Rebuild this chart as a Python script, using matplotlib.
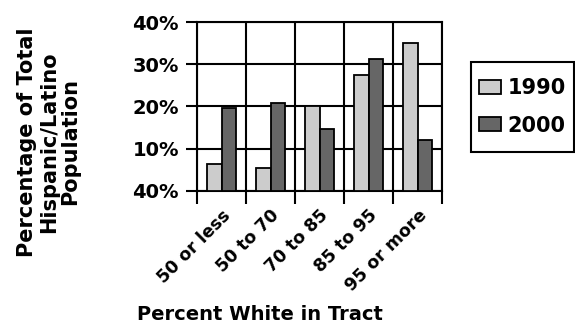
import matplotlib
matplotlib.use("Agg")
import matplotlib.pyplot as plt
from matplotlib.patches import Rectangle
import numpy as np

categories = ["50 or less", "50 to 70", "70 to 85", "85 to 95", "95 or more"]
series_names = ["1990", "2000"]
values_1990 = [6.4, 5.4, 20.0, 27.5, 35.0]
values_2000 = [19.6, 20.8, 14.6, 31.2, 12.1]
ytick_values = [0, 10, 20, 30, 40]
ytick_labels = ["40%", "10%", "20%", "30%", "40%"]

plt.rcParams["font.family"] = ["DejaVu Sans"]
plt.rcParams["font.weight"] = "bold"

W, H = 575, 326
fig = plt.figure(figsize=(W / 100, H / 100), dpi=100)
ax = fig.add_axes([197 / W, 1 - 191 / H, 245 / W, 169 / H])

x = np.arange(len(categories))
w = 0.3
ax.bar(x - w / 2, values_1990, w, color="#cccccc", edgecolor="black",
       linewidth=1.3, label=series_names[0], zorder=3)
ax.bar(x + w / 2, values_2000, w, color="#666666", edgecolor="black",
       linewidth=1.3, label=series_names[1], zorder=3)

ax.set_xlim(-0.5, len(categories) - 0.5)
ax.set_ylim(0, 40)

ax.set_yticks(ytick_values)
ax.set_yticklabels(ytick_labels, fontsize=14, fontweight="bold")
ax.tick_params(axis="y", length=8, width=1.5, pad=5)

ax.set_xticks(x)
ax.set_xticklabels(categories, rotation=45, ha="right", va="top",
                   rotation_mode="anchor", fontsize=12.5, fontweight="bold")
ax.set_xticks(np.arange(len(categories) + 1) - 0.5, minor=True)
ax.tick_params(axis="x", which="major", length=0, pad=11)
ax.tick_params(axis="x", which="minor", length=9, width=1.5)

ax.grid(axis="y", which="major", color="black", linewidth=1.5, zorder=0)
ax.grid(axis="x", which="minor", color="black", linewidth=1.5, zorder=0)
for s in ax.spines.values():
    s.set_linewidth(1.5)
    s.set_color("black")

# legend box drawn as a figure rectangle, entries centred inside it
box_l, box_t, box_r, box_b = 471, 62, 574, 152
fig.patches.append(Rectangle((box_l / W, 1 - box_b / H),
                             (box_r - box_l) / W, (box_b - box_t) / H,
                             transform=fig.transFigure, facecolor="white",
                             edgecolor="black", linewidth=1.5, zorder=1))
leg = fig.legend(loc="center",
                 bbox_to_anchor=((box_l + box_r) / 2 / W,
                                 1 - (box_t + box_b) / 2 / H),
                 prop={"size": 15, "weight": "bold"}, frameon=False,
                 handlelength=1.06, handleheight=0.67, borderpad=0.2,
                 labelspacing=0.83, handletextpad=0.3, borderaxespad=0)
leg.set_zorder(2)

fig.text(49 / W, 1 - 142 / H,
         "Percentage of Total\nHispanic/Latino\nPopulation",
         rotation=90, ha="center", va="center", multialignment="center",
         fontsize=15, fontweight="bold", linespacing=1.1)
fig.text(260 / W, 1 - 315 / H, "Percent White in Tract",
         ha="center", va="center", fontsize=14, fontweight="bold")

fig.savefig("out.png", dpi=100)
